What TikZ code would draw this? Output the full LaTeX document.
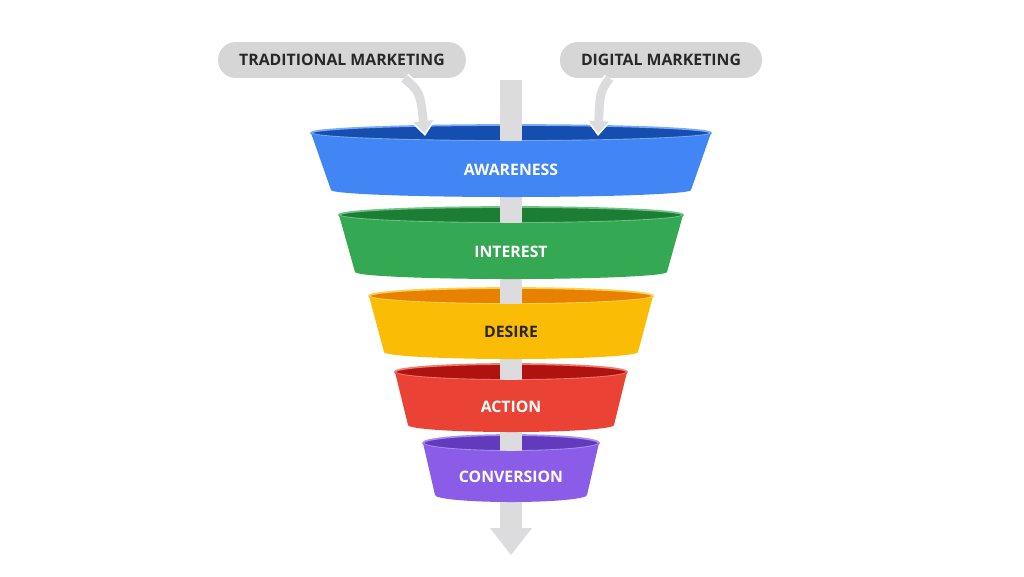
\documentclass[tikz,border=0pt]{standalone}
\usepackage{fontspec}
\setmainfont{Open Sans}
\usetikzlibrary{arrows.meta}
\definecolor{awblue}{RGB}{66,133,244}
\definecolor{awdark}{RGB}{22,78,176}
\definecolor{ingreen}{RGB}{52,168,83}
\definecolor{indark}{RGB}{28,125,52}
\definecolor{deyellow}{RGB}{251,188,5}
\definecolor{dedark}{RGB}{232,128,0}
\definecolor{acred}{RGB}{234,67,53}
\definecolor{acdark}{RGB}{176,18,16}
\definecolor{copurple}{RGB}{138,92,232}
\definecolor{codark}{RGB}{98,58,190}
\definecolor{shaftgray}{RGB}{220,220,223}
\definecolor{pillgray}{RGB}{214,214,214}
\definecolor{txtdark}{RGB}{40,40,40}

\tikzset{
  pill/.style={fill=pillgray, rounded corners=10pt, minimum height=20.4pt, inner xsep=12pt,
    font=\fontsize{9}{10}\selectfont\bfseries, text=txtdark},
  stagelabel/.style={font=\fontsize{9}{10}\selectfont\bfseries},
  feed/.style={draw=white, line width=7pt, -{Triangle[length=9pt,width=14pt]},
    postaction={draw=shaftgray, line width=5pt, shorten >=1.5pt, -{Triangle[length=7pt,width=11pt]}}}
}

\begin{document}
\begin{tikzpicture}[x=0.02cm,y=-0.02cm]
\useasboundingbox (0,0) rectangle (1024,576);

% Top rims (seen from above)
\foreach \ty/\tw/\col/\dk in {133/200/awblue/awdark, 215/172/ingreen/indark,
    296/142/deyellow/dedark, 372/116/acred/acdark, 443/88/copurple/codark} {
  \fill[\dk, draw=\col!70!white, line width=1pt] (511,\ty) ellipse [x radius=\tw, y radius=8];
}

% Shaft through the funnel
\fill[shaftgray] (500,80) rectangle (522,530);
\fill[shaftgray] (490,528) -- (532,528) -- (511,555) -- cycle;

% Funnel bodies with labels
\foreach \name/\ty/\tw/\by/\bw/\col/\tc/\txt in {
    aw/133/200/190/180/awblue/white/AWARENESS,
    in/215/172/272/156/ingreen/white/INTEREST,
    de/296/142/352/127/deyellow/txtdark/DESIRE,
    ac/372/116/425/103/acred/white/ACTION,
    co/443/88/495/76/copurple/white/CONVERSION} {
  \fill[\col] (511-\tw,\ty) arc[start angle=180, end angle=0, x radius=\tw, y radius=8]
    -- (511+\bw,\by) arc[start angle=0, end angle=180, x radius=\bw, y radius=7] -- cycle;
  \node[stagelabel, text=\tc] (\name) at (511,{(\ty+\by)/2+8}) {\txt};
}

% Marketing channels
\node[pill] (trad) at (342,60) {TRADITIONAL MARKETING};
\node[pill] (digi) at (661,60) {DIGITAL MARKETING};
\coordinate (tradin) at (425,136);
\coordinate (digiin) at (598,136);
\draw[feed] (trad.south east) ++(-62,0) coordinate (tradout) .. controls (420,92) .. (tradin);
\draw[feed] (digi.south west) ++(50,0) coordinate (digiout) .. controls (600,92) .. (digiin);
\end{tikzpicture}
\end{document}
